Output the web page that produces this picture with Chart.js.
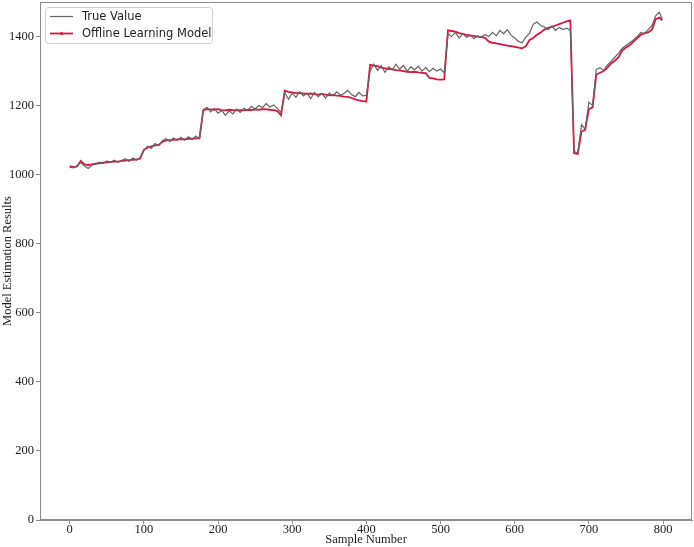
<!DOCTYPE html>
<html>
<head>
<meta charset="utf-8">
<script src="https://cdn.jsdelivr.net/npm/chart.js@4.4.0/dist/chart.umd.min.js"></script>
<style>
  html, body { margin: 0; padding: 0; background: #fff; }
  #wrap { width: 694px; height: 547px; }
</style>
</head>
<body>
<div id="wrap"><canvas id="chart" width="694" height="547"></canvas></div>
<script>
// sample numbers (read every 5 samples)
const samples = [
  0, 5, 10, 15, 20, 25, 30, 35, 40, 45, 50, 55, 60, 65, 70, 75, 80, 85, 90, 95,
  100, 105, 110, 115, 120, 125, 130, 135, 140, 145, 150, 155, 160, 165, 170, 175, 180, 185, 190, 195,
  200, 205, 210, 215, 220, 225, 230, 235, 240, 245, 250, 255, 260, 265, 270, 275, 280, 285, 290, 295,
  300, 305, 310, 315, 320, 325, 330, 335, 340, 345, 350, 355, 360, 365, 370, 375, 380, 385, 390, 395,
  400, 405, 410, 415, 420, 425, 430, 435, 440, 445, 450, 455, 460, 465, 470, 475, 480, 485, 490, 495,
  500, 505, 510, 515, 520, 525, 530, 535, 540, 545, 550, 555, 560, 565, 570, 575, 580, 585, 590, 595,
  600, 605, 610, 615, 620, 625, 630, 635, 640, 645, 650, 655, 660, 665, 670, 675, 680, 685, 690, 695,
  700, 705, 710, 715, 720, 725, 730, 735, 740, 745, 750, 755, 760, 765, 770, 775, 780, 785, 790, 795, 799
];

const trueValues = [
  1022, 1020, 1026, 1035, 1025, 1018, 1028, 1030, 1036, 1032, 1040, 1035, 1042, 1036, 1041, 1046, 1038, 1048, 1042, 1050,
  1070, 1082, 1076, 1090, 1084, 1098, 1104, 1096, 1106, 1099, 1108, 1100, 1110, 1102, 1112, 1104, 1188, 1195, 1182, 1192,
  1178, 1186, 1172, 1184, 1176, 1190, 1180, 1192, 1186, 1198, 1190, 1200, 1194, 1206, 1196, 1202, 1192, 1180, 1238, 1218,
  1236, 1224, 1240, 1228, 1236, 1220, 1238, 1226, 1234, 1222, 1236, 1228, 1240, 1230, 1236, 1244, 1232, 1226, 1238, 1228,
  1230, 1300, 1320, 1302, 1316, 1296, 1312, 1304, 1320, 1306, 1316, 1300, 1312, 1304, 1314, 1300, 1310, 1298, 1308, 1300,
  1306, 1295, 1408, 1400, 1412, 1396, 1408, 1398, 1404, 1394, 1402, 1398, 1406, 1400, 1412, 1402, 1418, 1408, 1420, 1404,
  1396, 1386, 1382, 1398, 1410, 1436, 1442, 1432, 1428, 1420, 1430, 1418, 1426, 1420, 1424, 1418, 1068, 1062, 1145, 1132,
  1210, 1200, 1305, 1310, 1302, 1318, 1328, 1340, 1352, 1366, 1374, 1382, 1390, 1400, 1412, 1408, 1420, 1432, 1460, 1470, 1450
];

const offlineValues = [
  1025, 1022, 1024, 1040, 1030, 1028, 1030, 1032, 1033, 1035, 1036, 1037, 1038, 1038, 1040, 1041, 1042, 1043, 1044, 1046,
  1072, 1078, 1082, 1085, 1086, 1095, 1099, 1100, 1101, 1102, 1103, 1102, 1104, 1104, 1105, 1106, 1185, 1190, 1189, 1188,
  1190, 1187, 1186, 1188, 1187, 1186, 1187, 1186, 1188, 1187, 1189, 1188, 1190, 1189, 1188, 1187, 1184, 1172, 1243, 1240,
  1238, 1236, 1237, 1235, 1234, 1235, 1233, 1232, 1234, 1232, 1230, 1231, 1229, 1228, 1226, 1225, 1222, 1218, 1215, 1213,
  1212, 1318, 1316, 1314, 1310, 1308, 1306, 1305, 1303, 1302, 1300, 1298, 1297, 1298, 1296, 1295, 1294, 1280, 1279, 1276,
  1275, 1276, 1418, 1416, 1414, 1410, 1408, 1405, 1403, 1402, 1400, 1398, 1396, 1385, 1382, 1380, 1378, 1376, 1374, 1372,
  1370, 1368, 1366, 1372, 1390, 1396, 1405, 1412, 1420, 1425, 1428, 1432, 1436, 1440, 1444, 1447, 1062, 1060, 1125, 1130,
  1190, 1195, 1290, 1295, 1300, 1310, 1322, 1330, 1340, 1360, 1368, 1375, 1385, 1395, 1405, 1410, 1412, 1420, 1450, 1455, 1447
];

const xTicks = [0, 100, 200, 300, 400, 500, 600, 700, 800];
const yTicks = [0, 200, 400, 600, 800, 1000, 1200, 1400];
const seriesNames = ["True Value", "Offline Learning Model"];

const serif = "'Liberation Serif', 'Times New Roman', serif";
const axisColor = "#8c8c8c";

const frame = {
  id: "frame",
  afterDraw(chart) {
    const { ctx, chartArea: a } = chart;
    ctx.save();
    ctx.strokeStyle = axisColor;
    ctx.lineWidth = 1;
    ctx.strokeRect(a.left + 0.5, a.top + 0.5, a.right - a.left - 1, a.bottom - a.top - 1);
    ctx.restore();
  }
};

const legendBox = {
  id: "legendBox",
  afterDraw(chart) {
    const ctx = chart.ctx;
    const x = 45, y = 7, w = 167, h = 36;
    ctx.save();
    ctx.fillStyle = "rgba(255,255,255,0.8)";
    ctx.strokeStyle = "#d0d0d0";
    ctx.lineWidth = 1;
    ctx.beginPath();
    ctx.roundRect(x + 0.5, y + 0.5, w, h, 3);
    ctx.fill();
    ctx.stroke();
    ctx.font = "11.5px 'DejaVu Sans', sans-serif";
    ctx.textBaseline = "middle";
    chart.data.datasets.forEach((ds, i) => {
      const ly = y + 9.5 + i * 17;
      ctx.strokeStyle = ds.borderColor;
      ctx.lineWidth = ds.borderWidth;
      ctx.beginPath();
      ctx.moveTo(x + 5, ly);
      ctx.lineTo(x + 28, ly);
      ctx.stroke();
      if (i === 1) {
        ctx.fillStyle = ds.borderColor;
        ctx.beginPath();
        ctx.arc(x + 16.5, ly, 1.6, 0, Math.PI * 2);
        ctx.fill();
      }
      ctx.fillStyle = "#222";
      ctx.fillText(ds.label, x + 37, ly + 0.5);
    });
    ctx.restore();
  }
};

new Chart(document.getElementById("chart"), {
  type: "line",
  data: {
    datasets: [
      {
        label: seriesNames[0],
        data: samples.map((s, i) => ({ x: s, y: trueValues[i] })),
        borderColor: "#646464",
        borderWidth: 1.2,
        pointRadius: 0,
        tension: 0
      },
      {
        label: seriesNames[1],
        data: samples.map((s, i) => ({ x: s, y: offlineValues[i] })),
        borderColor: "#dc143c",
        borderWidth: 1.8,
        pointRadius: 0,
        tension: 0
      }
    ]
  },
  options: {
    responsive: false,
    animation: false,
    devicePixelRatio: 1,
    layout: { padding: { top: 2, right: 2, left: 0, bottom: 0 } },
    plugins: { legend: { display: false }, tooltip: { enabled: false } },
    scales: {
      x: {
        type: "linear",
        min: -40,
        max: 839,
        afterBuildTicks: s => { s.ticks = xTicks.map(v => ({ value: v })); },
        afterFit: s => { s.height = 27; s.paddingLeft = 0; s.paddingRight = 0; },
        ticks: { font: { family: serif, size: 12.5 }, color: "#222", padding: -2, maxRotation: 0, callback: v => String(v) },
        grid: { drawOnChartArea: false, drawTicks: true, tickLength: 4, color: axisColor },
        border: { color: axisColor },
        title: { display: true, text: "Sample Number", font: { family: serif, size: 12.5 }, color: "#222", padding: 0 }
      },
      y: {
        min: 0,
        max: 1500,
        afterBuildTicks: s => { s.ticks = yTicks.map(v => ({ value: v })); },
        afterFit: s => { s.width = 40; s.paddingTop = 0; s.paddingBottom = 0; },
        ticks: { font: { family: serif, size: 12.5 }, color: "#222", padding: 2, callback: v => String(v) },
        grid: { drawOnChartArea: false, drawTicks: true, tickLength: 4, color: axisColor },
        border: { color: axisColor },
        title: { display: true, text: "Model Estimation Results", font: { family: serif, size: 12.5 }, color: "#222", padding: 0 }
      }
    }
  },
  plugins: [frame, legendBox]
});
</script>
</body>
</html>
